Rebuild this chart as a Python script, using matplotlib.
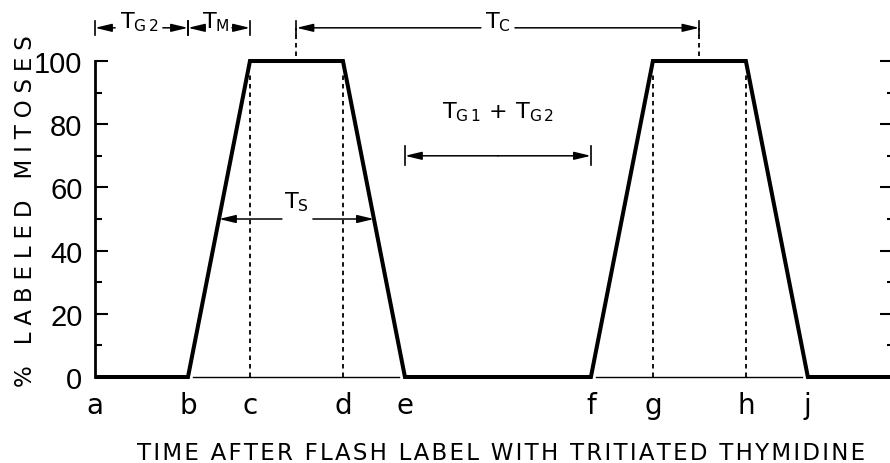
import matplotlib
matplotlib.use("Agg")
import matplotlib.pyplot as plt
from matplotlib.ticker import FixedLocator

# ---- data -------------------------------------------------------------
time_marks = [0, 3, 5, 8, 10, 16, 18, 21, 23]
mark_letters = ["a", "b", "c", "d", "e", "f", "g", "h", "j"]
curve_time = [0, 3, 5, 8, 10, 16, 18, 21, 23, 26]
curve_pct = [0, 0, 100, 100, 0, 0, 100, 100, 0, 0]
y_ticks = [0, 20, 40, 60, 80, 100]
y_minor = [10, 30, 50, 70, 90]

plt.rcParams["font.family"] = ["DejaVu Sans"]
plt.rcParams["mathtext.fontset"] = "dejavusans"

INK = "black"


def spaced(s, sep="\u2009"):
    """Letter-spaced string for the drafted axis titles."""
    return sep.join(s)


fig = plt.figure(figsize=(8.9, 4.64), dpi=100)
ax = fig.add_axes([0.10674, 0.18534, 0.89326, 0.68103])
ax.set_xlim(0, 25.65)
ax.set_ylim(0, 100)

for side in ("top", "bottom", "right"):
    ax.spines[side].set_visible(False)
ax.spines["left"].set_linewidth(2.0)
ax.spines["left"].set_bounds(0, 100)

ax.set_yticks(y_ticks)
ax.set_yticklabels([str(v) for v in y_ticks], fontsize=21,
                   family=["Liberation Sans", "DejaVu Sans"])
ax.yaxis.set_minor_locator(FixedLocator(y_minor))
ax.tick_params(axis="y", which="major", direction="in", length=9.4, width=1.5, pad=9)
ax.tick_params(axis="y", which="minor", direction="in", length=5, width=1.5)

ax.set_xticks(time_marks)
ax.set_xticklabels(mark_letters, fontsize=20)
ax.tick_params(axis="x", length=0, pad=10)

# right-hand scale (ticks only)
sec = ax.secondary_yaxis("right")
sec.spines["right"].set_visible(False)
sec.set_yticks(y_ticks[1:])
sec.set_yticklabels([""] * len(y_ticks[1:]))
sec.yaxis.set_minor_locator(FixedLocator(y_minor))
sec.tick_params(axis="y", which="major", direction="in", length=7, width=1.5)
sec.tick_params(axis="y", which="minor", direction="in", length=2.2, width=1.5)

# axis titles
ax.set_xlabel(spaced("TIME AFTER FLASH LABEL WITH TRITIATED THYMIDINE", "\u200a"),
              fontsize=16.5, va="baseline", ha="center")
ax.xaxis.set_label_coords(0.5107, -0.2595)
ax.set_ylabel(spaced("% LABELED MITOSES", "\u2009\u200a"), fontsize=16.5, rotation=90,
              va="baseline", ha="center")
ax.yaxis.set_label_coords(-0.0792, 0.5285)

# ---- labelled-mitoses curve ---------------------------------------------
ax.plot(curve_time, curve_pct, color=INK, lw=2.9, solid_joinstyle="miter",
        solid_capstyle="butt", clip_on=False, zorder=5)

b, c, d, e, f, g, h, j = time_marks[1:]
# thin baselines under the two waves
for x0, x1 in ((b, e), (f, j)):
    ax.plot([x0 + 0.15, x1 - 0.2], [0, 0], color=INK, lw=1.0, clip_on=False)

# dotted verticals at c, d, g, h
for x in (c, d, g, h):
    ax.plot([x, x], [0, 96], color=INK, lw=1.3, ls=(0, (2.5, 2.2)), clip_on=False)

ARROW = dict(arrowstyle="-|>,head_length=1.0,head_width=0.24", lw=1.1,
             color=INK, shrinkA=0, shrinkB=0, mutation_scale=10)


def arrow(x_from, x_to, y):
    ax.annotate("", xy=(x_to, y), xytext=(x_from, y), arrowprops=ARROW,
                annotation_clip=False)


def bar(x, y, half):
    ax.plot([x, x], [y - half, y + half], color=INK, lw=1.2, clip_on=False)


def span(x0, x1, y, label, half_gap, bar_half=2.2, label_x=None, label_dy=0.0):
    mid = (x0 + x1) / 2 if label_x is None else label_x
    arrow(mid - half_gap, x0, y)
    arrow(mid + half_gap, x1, y)
    if bar_half:
        bar(x0, y, bar_half)
        bar(x1, y, bar_half)
    ax.text(mid, y + label_dy, label, fontsize=16, ha="center", va="baseline")


ROW = 110.5
# T_G2 and T_M along the top
span(time_marks[0], b, ROW, r"$\mathrm{T_{G\,2}}$", 0.77, label_x=1.42)
span(b, c, ROW, r"$\mathrm{T_M}$", 0.53, label_x=3.89)

# cycle time, plateau centre to plateau centre
tc0, tc1 = (c + d) / 2, (g + h) / 2
for x in (tc0, tc1):
    ax.plot([x, x], [101.5, ROW], color=INK, lw=1.3, ls=(0, (2.5, 2.2)), clip_on=False)
span(tc0, tc1, ROW, r"$\mathrm{T_C}$", 0.55)

# S phase: half-height points of rise and fall
ts0, ts1 = (b + c) / 2, (d + e) / 2
arrow(6.03, ts0, 50)
arrow(7.03, ts1, 50)
ax.text((ts0 + ts1) / 2, 53.8, r"$\mathrm{T_S}$", fontsize=16, ha="center", va="baseline")

# G1 + G2: from the end of the first wave to the start of the second
arrow((e + f) / 2, e, 70)
arrow((e + f) / 2, f, 70)
bar(e, 70, 3.0)
bar(f, 70, 3.0)
ax.text((e + f) / 2, 82.3, r"$\mathrm{T_{G\,1}\,+\,T_{G\,2}}$", fontsize=16,
        ha="center", va="baseline")

fig.savefig("out.png", dpi=100)
